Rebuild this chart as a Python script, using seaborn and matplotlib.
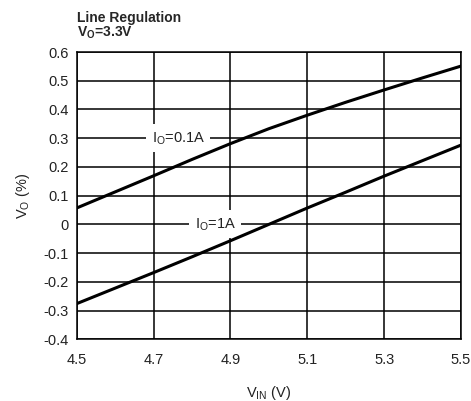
import matplotlib
matplotlib.use("Agg")
import matplotlib.pyplot as plt
import seaborn as sns
import pandas as pd

vin = [4.5, 4.6, 4.7, 4.8, 4.9, 5.0, 5.1, 5.2, 5.3, 5.4, 5.5]
vo_01a = [0.057, 0.113, 0.169, 0.226, 0.281, 0.333, 0.380, 0.425, 0.468, 0.510, 0.551]
vo_1a = [-0.276, -0.222, -0.168, -0.113, -0.057, 0.0, 0.057, 0.112, 0.168, 0.222, 0.276]
xticks = [4.5, 4.7, 4.9, 5.1, 5.3, 5.5]
yticks = [-0.4, -0.3, -0.2, -0.1, 0, 0.1, 0.2, 0.3, 0.4, 0.5, 0.6]
ytick_labels = ["-0.4", "-0.3", "-0.2", "-0.1", "0", "0.1", "0.2", "0.3", "0.4", "0.5", "0.6"]

sns.set_theme(style="white")
plt.rcParams['font.family'] = ['Liberation Sans Narrow', 'Liberation Sans', 'DejaVu Sans']
plt.rcParams['mathtext.fontset'] = 'custom'
plt.rcParams['mathtext.rm'] = 'Liberation Sans'
plt.rcParams['mathtext.bf'] = 'Liberation Sans:bold'

fig = plt.figure(figsize=(4.71, 4.01), dpi=100)
ax = fig.add_axes([0.1628, 0.1539, 0.8160, 0.7164])

df1 = pd.DataFrame({"x": vin, "y": vo_01a})
df2 = pd.DataFrame({"x": vin, "y": vo_1a})
sns.lineplot(data=df1, x="x", y="y", ax=ax, color="black", linewidth=2.2, zorder=3)
sns.lineplot(data=df2, x="x", y="y", ax=ax, color="black", linewidth=2.2, zorder=3)

ax.set_xlim(4.5, 5.5)
ax.set_ylim(-0.4, 0.6)
ax.set_xticks(xticks)
ax.set_xticklabels([f"{t:.1f}" for t in xticks])
ax.set_yticks(yticks)
ax.set_yticklabels(ytick_labels)
ax.grid(True, color="black", linewidth=1.1)
ax.set_axisbelow(True)
for s in ax.spines.values():
    s.set_color("black")
    s.set_linewidth(1.1)
ax.tick_params(axis="both", direction="out", length=3, width=1.1, color="black",
               labelsize=10.5, labelcolor="#222222")
ax.tick_params(axis="x", pad=7)
ax.tick_params(axis="y", pad=3)

ax.set_xlabel("V$_\\mathregular{IN}$ (V)", fontsize=10.5, color="#222222", labelpad=12)
ax.set_ylabel("V$_\\mathregular{O}$ (%)", fontsize=10.5, color="#222222", labelpad=8)

box = dict(facecolor="white", edgecolor="none", pad=4)
ax.text(4.764, 0.3, "I$_\\mathregular{O}$=0.1A", ha="center", va="center", fontsize=10.5,
        color="#222222", bbox=box, zorder=2)
ax.text(4.86, 0.0, "I$_\\mathregular{O}$=1A", ha="center", va="center", fontsize=10.5,
        color="#222222", bbox=box, zorder=2)

fig.text(0.1628, 0.955, "Line Regulation", fontsize=10, fontweight="bold", ha="left", va="center")
fig.text(0.1628, 0.918, "V$_\\mathbf{O}$=3.3V", fontsize=10, fontweight="bold", ha="left", va="center")

fig.savefig("out.png", dpi=100)
